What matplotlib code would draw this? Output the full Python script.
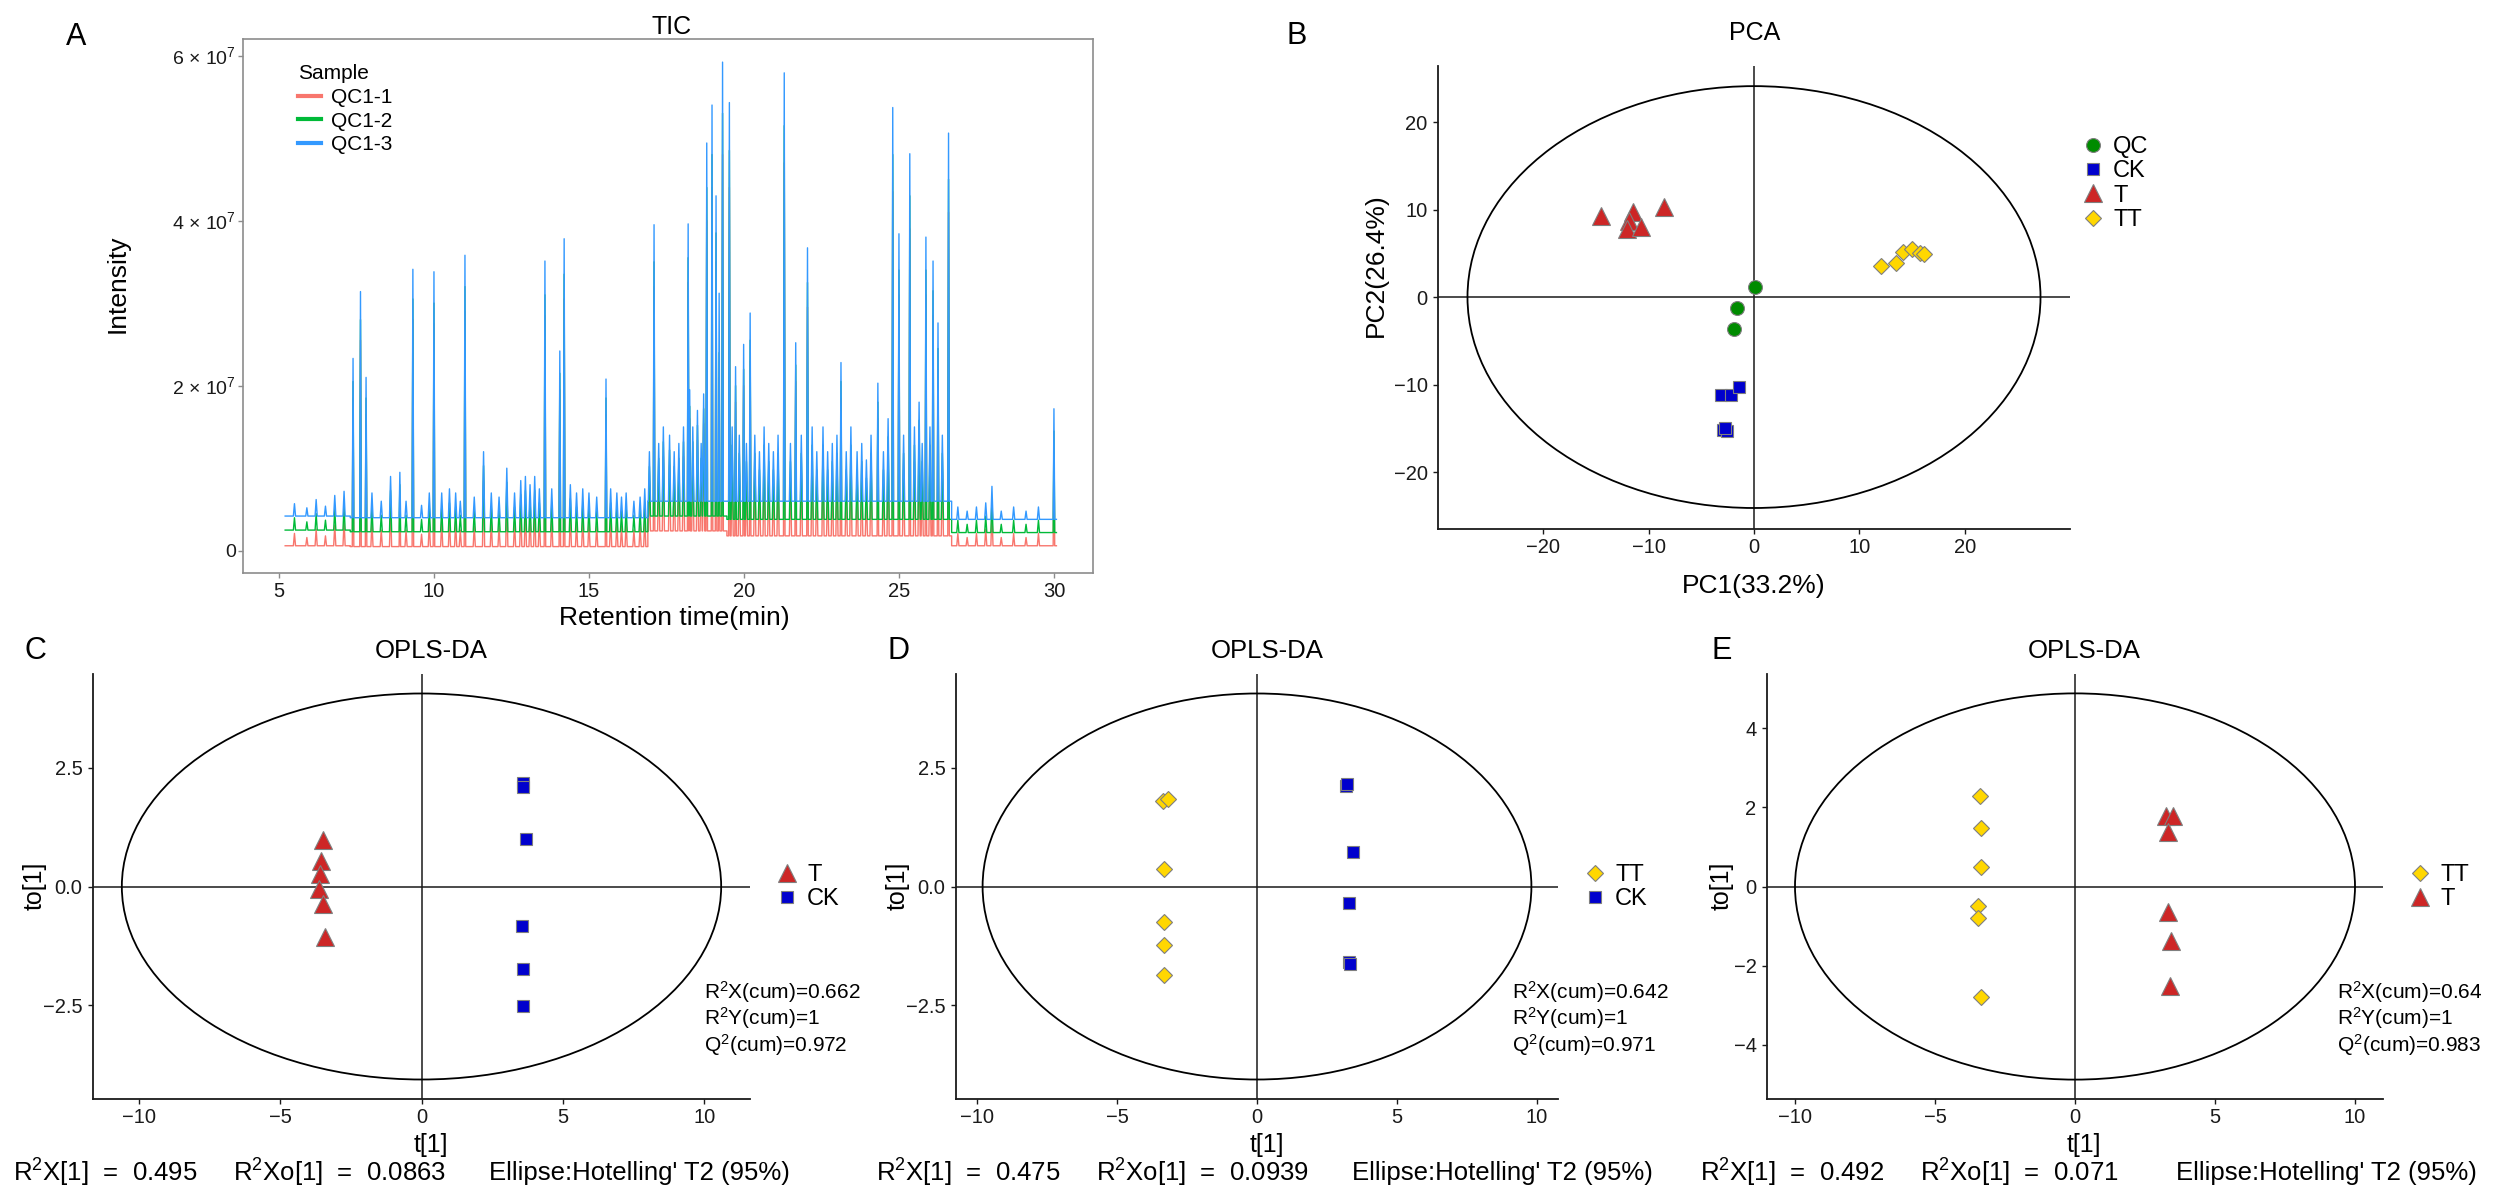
import numpy as np
import matplotlib
matplotlib.use('Agg')
import matplotlib.pyplot as plt
from matplotlib.patches import Ellipse
from matplotlib.lines import Line2D

W, H = 2498, 1200
FONT = 'Liberation Sans'
plt.rcParams['font.family'] = [FONT, 'DejaVu Sans']
plt.rcParams['mathtext.fontset'] = 'custom'
plt.rcParams['mathtext.rm'] = FONT
plt.rcParams['mathtext.it'] = FONT + ':italic'
plt.rcParams['mathtext.bf'] = FONT + ':bold'
plt.rcParams['axes.unicode_minus'] = True

# ---------------- Panel A : TIC (intensities in units of 1e7) ----------------
tic_samples = ['QC1-1', 'QC1-2', 'QC1-3']
seg_edges = [5.2, 7.3, 16.9, 19.45, 26.7, 30.08]
base_qc1 = [0.06, 0.05, 0.24, 0.18, 0.06]
base_qc2 = [0.25, 0.23, 0.42, 0.38, 0.22]
base_qc3 = [0.42, 0.40, 0.60, 0.60, 0.38]
major_t = [7.39, 7.63, 7.81, 8.90, 9.32, 10.00, 11.00, 13.58, 14.06, 14.20,
           15.55, 17.10, 18.20, 18.25, 18.80, 18.97, 19.10, 19.20, 19.31, 19.53,
           19.73, 19.99, 20.20, 21.30, 21.67, 22.05, 23.13, 24.32, 24.80, 25.00,
           25.35, 25.87, 26.10, 26.26, 26.60, 30.00]
major_qc3 = [2.33, 3.14, 2.10, 0.95, 3.41, 3.38, 3.58, 3.51, 2.42, 3.78,
             2.08, 3.95, 3.96, 1.95, 4.94, 5.40, 4.30, 3.12, 5.92, 5.43,
             2.23, 2.50, 2.88, 5.79, 2.52, 3.67, 2.28, 2.03, 5.37, 3.84,
             4.81, 3.80, 3.51, 2.76, 5.06, 1.72]
major_qc2 = [2.05, 2.80, 1.85, 0.80, 3.05, 3.00, 3.20, 3.10, 2.15, 3.35,
             1.85, 3.50, 3.55, 1.75, 4.40, 4.80, 3.85, 2.40, 5.30, 4.85,
             2.00, 2.20, 2.55, 5.15, 2.25, 3.25, 2.05, 1.80, 4.80, 3.40,
             4.30, 3.40, 3.15, 2.45, 4.50, 1.45]
major_qc1 = [1.85, 2.55, 1.65, 0.65, 2.80, 2.75, 2.90, 2.85, 1.95, 3.05,
             1.65, 3.20, 3.25, 1.60, 4.00, 4.40, 3.50, 2.10, 4.80, 4.40,
             1.80, 2.00, 2.30, 4.70, 2.05, 2.95, 1.85, 1.60, 4.35, 3.10,
             3.90, 3.10, 2.85, 2.20, 4.10, 1.20]
minor_t = [5.5, 5.9, 6.2, 6.5, 6.8, 7.1, 8.0, 8.3, 8.6, 9.1,
           9.6, 9.85, 10.25, 10.5, 10.7, 10.85, 11.3, 11.6, 11.85, 12.1,
           12.35, 12.6, 12.8, 12.95, 13.1, 13.25, 13.4, 13.8, 14.4, 14.6,
           14.8, 15.0, 15.25, 15.7, 15.9, 16.05, 16.2, 16.45, 16.65, 16.8,
           16.95, 17.25, 17.4, 17.6, 17.75, 17.9, 18.05, 18.35, 18.5, 18.62,
           18.7, 19.62, 19.85, 20.08, 20.35, 20.5, 20.65, 20.8, 20.95,
           21.1, 21.5, 21.85, 22.2, 22.35, 22.55, 22.7, 22.85, 23.0, 23.3,
           23.45, 23.65, 23.8, 23.95, 24.1, 24.5, 24.65, 25.15, 25.5, 25.65,
           25.75, 26.0, 26.4, 26.9, 27.2, 27.5, 27.8, 28.0, 28.3, 28.7,
           29.1, 29.5]
minor_rise = [0.15, 0.10, 0.20, 0.12, 0.25, 0.30, 0.30, 0.20, 0.50, 0.20,
              0.15, 0.30, 0.30, 0.35, 0.30, 0.20, 0.25, 0.80, 0.30, 0.25,
              0.60, 0.30, 0.45, 0.50, 0.40, 0.50, 0.35, 0.35, 0.40, 0.30,
              0.35, 0.30, 0.25, 0.35, 0.30, 0.25, 0.30, 0.20, 0.25, 0.35,
              0.60, 0.70, 0.90, 0.80, 0.60, 0.70, 0.90, 0.90, 1.10, 0.70,
              1.30, 0.90, 0.80, 0.70, 0.80, 0.60, 0.90, 0.70, 0.60,
              0.80, 0.70, 0.80, 0.90, 0.60, 0.90, 0.60, 0.70, 0.80, 0.60,
              0.90, 0.60, 0.70, 0.50, 0.80, 0.60, 1.00, 0.80, 0.90, 1.20,
              0.70, 0.90, 0.80, 0.15, 0.10, 0.15, 0.20, 0.40, 0.10, 0.15,
              0.10, 0.15]
tic_xticks = [5, 10, 15, 20, 25, 30]
tic_yticks = [0, 2e7, 4e7, 6e7]
tic_ylabels = ['0', r'2 × 10$^{7}$', r'4 × 10$^{7}$', r'6 × 10$^{7}$']

# ---------------- Panel B : PCA ----------------
pca_groups = ['QC', 'CK', 'T', 'TT']
qc_pc1 = [0.13, -1.58, -1.90]
qc_pc2 = [1.10, -1.22, -3.66]
ck_pc1 = [-3.16, -2.18, -1.45, -2.97, -2.60, -2.80]
ck_pc2 = [-11.2, -11.2, -10.25, -15.2, -15.28, -15.0]
t_pc1 = [-14.5, -11.5, -11.9, -12.05, -10.7, -8.5]
t_pc2 = [9.3, 9.75, 8.7, 7.8, 8.0, 10.25]
tt_pc1 = [12.04, 13.46, 14.15, 15.04, 15.8, 16.14]
tt_pc2 = [3.54, 3.92, 5.18, 5.45, 5.06, 4.91]
pca_ellipse = (27.2, 24.1)
pca_ticks = [-20, -10, 0, 10, 20]

# ---------------- Panels C, D, E : OPLS-DA ----------------
c_T_t1 = [-3.50, -3.55, -3.60, -3.62, -3.48, -3.43]
c_T_to1 = [0.97, 0.54, 0.27, -0.06, -0.36, -1.06]
c_CK_t1 = [3.58, 3.60, 3.68, 3.55, 3.58, 3.58]
c_CK_to1 = [2.17, 2.10, 1.00, -0.83, -1.73, -2.52]
c_ellipse = (10.6, 4.06)
c_stats = ['0.662', '1', '0.972']
c_foot = ['0.495', '0.0863']

d_TT_t1 = [-3.35, -3.19, -3.31, -3.31, -3.33, -3.31]
d_TT_to1 = [1.79, 1.84, 0.36, -0.75, -1.23, -1.87]
d_CK_t1 = [3.18, 3.20, 3.44, 3.29, 3.30, 3.32]
d_CK_to1 = [2.12, 2.15, 0.73, -0.34, -1.58, -1.62]
d_ellipse = (9.8, 4.06)
d_stats = ['0.642', '1', '0.971']
d_foot = ['0.475', '0.0939']

e_TT_t1 = [-3.39, -3.37, -3.37, -3.45, -3.48, -3.37]
e_TT_to1 = [2.29, 1.48, 0.49, -0.50, -0.79, -2.80]
e_T_t1 = [3.25, 3.50, 3.33, 3.33, 3.42, 3.40]
e_T_to1 = [1.77, 1.77, 1.37, -0.65, -1.38, -2.51]
e_ellipse = (10.0, 4.88)
e_stats = ['0.64', '1', '0.983']
e_foot = ['0.492', '0.071']

opls_xticks = [-10, -5, 0, 5, 10]
cd_yticks = [-2.5, 0.0, 2.5]
cd_ylabels = ['−2.5', '0.0', '2.5']
e_yticks = [-4, -2, 0, 2, 4]
e_ylabels = ['−4', '−2', '0', '2', '4']

# ---------------- styles ----------------
tic_colors = ['#F8766D', '#00BA38', '#3399FF']
STYLE = {
    'QC': dict(marker='o', ms=10, mfc='#008B00'),
    'CK': dict(marker='s', ms=9, mfc='#0000CD'),
    'T': dict(marker='^', ms=13, mfc='#CD2626'),
    'TT': dict(marker='D', ms=8.5, mfc='#FFD700'),
}
EDGE = '#7F7F7F'

fig = plt.figure(figsize=(W / 100, H / 100), dpi=100, facecolor='white')


def rect(x0, y0, x1, y1):
    return [x0 / W, 1 - y1 / H, (x1 - x0) / W, (y1 - y0) / H]


def ftext(x, y, s, **kw):
    kw.setdefault('ha', 'center')
    kw.setdefault('va', 'center')
    fig.text(x / W, 1 - y / H, s, **kw)


def handle(g):
    st = STYLE[g]
    return Line2D([], [], ls='none', marker=st['marker'], ms=st['ms'],
                  mfc=st['mfc'], mec=EDGE, mew=0.8)


def scatter(ax, g, xs, ys):
    st = STYLE[g]
    ax.plot(xs, ys, ls='none', marker=st['marker'], ms=st['ms'], mfc=st['mfc'],
            mec=EDGE, mew=0.8, zorder=4)


def legend(ax, groups, x_marker, y_first, fs):
    fs_px = fs * 100 / 72
    leg = ax.legend([handle(g) for g in groups], groups, loc='upper left',
                    bbox_to_anchor=((x_marker - fs_px * 0.5) / W, 1 - (y_first - 13) / H),
                    bbox_transform=fig.transFigure, frameon=False, borderpad=0,
                    borderaxespad=0, handlelength=1.0, handletextpad=0.35,
                    labelspacing=0.1, prop={'size': fs})
    return leg


def style_axes(ax):
    for s in ['top', 'right']:
        ax.spines[s].set_visible(False)
    for s in ['left', 'bottom']:
        ax.spines[s].set_color('#1a1a1a')
        ax.spines[s].set_linewidth(1.3)
    ax.tick_params(axis='both', direction='out', length=3.5, width=1.0, color='#1a1a1a',
                   labelsize=14.5, labelcolor='#1a1a1a')
    ax.tick_params(axis='x', pad=3)
    ax.tick_params(axis='y', pad=4)
    ax.set_facecolor('white')


# ---------------- Panel A ----------------
def build_trace(base, major_h):
    ts, ys = [], []
    for i in range(len(base)):
        ts += [seg_edges[i], seg_edges[i + 1] - 1e-4]
        ys += [base[i], base[i]]

    def idx(t):
        return min(max(int(np.searchsorted(seg_edges, t, side='right')) - 1, 0), len(base) - 1)

    for t, h in zip(major_t, major_h):
        b = base[idx(t)]
        ts += [t - 0.025, t, t + 0.025]
        ys += [b, max(h, b), b]
    for t, r in zip(minor_t, minor_rise):
        b = base[idx(t)]
        ts += [t - 0.035, t, t + 0.035]
        ys += [b, b + r, b]
    order = np.argsort(ts, kind='stable')
    return np.asarray(ts)[order], np.asarray(ys)[order] * 1e7


axA = fig.add_axes(rect(243, 39, 1093, 573))
for name, col, base, major in zip(tic_samples, tic_colors,
                                  [base_qc1, base_qc2, base_qc3],
                                  [major_qc1, major_qc2, major_qc3]):
    tx, ty = build_trace(base, major)
    axA.plot(tx, ty, color=col, lw=1.0, label=name)
axA.set_xlim(3.84, 31.26)
axA.set_ylim(-0.27e7, 6.2e7)
axA.set_xticks(tic_xticks)
axA.set_yticks(tic_yticks)
axA.set_yticklabels(tic_ylabels)
for s in axA.spines.values():
    s.set_color('#8c8c8c')
    s.set_linewidth(1.2)
axA.tick_params(axis='both', direction='out', length=3.5, width=1.0, color='#8c8c8c',
                labelsize=14.5, labelcolor='#1a1a1a')
axA.tick_params(axis='y', labelsize=14, pad=1.5)
axA.tick_params(axis='x', pad=3)
legA = axA.legend(loc='upper left', bbox_to_anchor=(0.052, 0.972), frameon=False,
                  title='Sample', prop={'size': 15}, title_fontproperties={'size': 15},
                  handlelength=1.1, handletextpad=0.5, labelspacing=0.22,
                  borderpad=0, alignment='left')
for lh in legA.get_lines():
    lh.set_linewidth(3)

ftext(76, 37, 'A', size=22)
ftext(672, 27, 'TIC', size=18)
ftext(118, 284, 'Intensity', size=19, rotation=90)
ftext(674, 618, 'Retention time(min)', size=19)

# ---------------- Panel B ----------------
axB = fig.add_axes(rect(1438, 66, 2070, 529))
style_axes(axB)
axB.add_patch(Ellipse((0, 0), 2 * pca_ellipse[0], 2 * pca_ellipse[1], fill=False,
                      ec='black', lw=1.3, zorder=2))
axB.axhline(0, color='#1a1a1a', lw=1.1, zorder=1)
axB.axvline(0, color='#1a1a1a', lw=1.1, zorder=1)
scatter(axB, 'QC', qc_pc1, qc_pc2)
scatter(axB, 'CK', ck_pc1, ck_pc2)
scatter(axB, 'T', t_pc1, t_pc2)
scatter(axB, 'TT', tt_pc1, tt_pc2)
axB.set_xlim(-30, 30)
axB.set_ylim(-26.5, 26.4)
axB.set_xticks(pca_ticks)
axB.set_yticks(pca_ticks)
legend(axB, pca_groups, 2093, 149, 17)
ftext(1297, 36, 'B', size=22)
ftext(1755, 33, 'PCA', size=18)
ftext(1376, 265, 'PC2(26.4%)', size=19, rotation=90)
ftext(1754, 586, 'PC1(33.2%)', size=19)


# ---------------- Panels C, D, E ----------------
def opls_panel(tag, x0, x1, xlim, ylim, yticks, ylabels, ell, groups, data,
               stats, foot, tag_x, title_x, foot_x):
    ax = fig.add_axes(rect(x0, 674, x1, 1099))
    style_axes(ax)
    ax.add_patch(Ellipse((0, 0), 2 * ell[0], 2 * ell[1], fill=False, ec='black',
                         lw=1.3, zorder=2))
    ax.axhline(0, color='#1a1a1a', lw=1.1, zorder=1)
    ax.axvline(0, color='#1a1a1a', lw=1.1, zorder=1)
    for g, (xs, ys) in zip(groups, data):
        scatter(ax, g, xs, ys)
    ax.set_xlim(-xlim, xlim)
    ax.set_ylim(-ylim, ylim)
    ax.set_xticks(opls_xticks)
    ax.set_yticks(yticks)
    ax.set_yticklabels(ylabels)
    legend(ax, groups, x1 + 37, 877, 17)
    ftext(x1 - 46, 992, r'R$^{2}$X(cum)=' + stats[0], size=15, ha='left')
    ftext(x1 - 46, 1018, r'R$^{2}$Y(cum)=' + stats[1], size=15, ha='left')
    ftext(x1 - 46, 1045, r'Q$^{2}$(cum)=' + stats[2], size=15, ha='left')
    ftext(tag_x, 651, tag, size=22)
    ftext(title_x, 651, 'OPLS-DA', size=18.5)
    ftext(tag_x, 886, 'to[1]', size=18, rotation=90)
    ftext(title_x, 1145, 't[1]', size=18)
    ftext(foot_x, 1173, r'R$^{2}$X[1]  =  ' + foot[0], size=18.5, ha='left')
    ftext(foot_x + 220, 1173, r'R$^{2}$Xo[1]  =  ' + foot[1], size=18.5, ha='left')
    ftext(foot_x + 476, 1173, "Ellipse:Hotelling' T2 (95%)", size=18.5, ha='left')
    return ax


opls_panel('C', 93, 750, 11.62, 4.47, cd_yticks, cd_ylabels, c_ellipse, ['T', 'CK'],
           [(c_T_t1, c_T_to1), (c_CK_t1, c_CK_to1)], c_stats, c_foot, 35, 431, 13)
opls_panel('D', 956, 1558, 10.75, 4.47, cd_yticks, cd_ylabels, d_ellipse, ['TT', 'CK'],
           [(d_TT_t1, d_TT_to1), (d_CK_t1, d_CK_to1)], d_stats, d_foot, 898, 1267, 876)
opls_panel('E', 1767, 2383, 11.0, 5.37, e_yticks, e_ylabels, e_ellipse, ['TT', 'T'],
           [(e_TT_t1, e_TT_to1), (e_T_t1, e_T_to1)], e_stats, e_foot, 1722, 2084, 1700)

fig.savefig('out.png', dpi=100, facecolor='white')
